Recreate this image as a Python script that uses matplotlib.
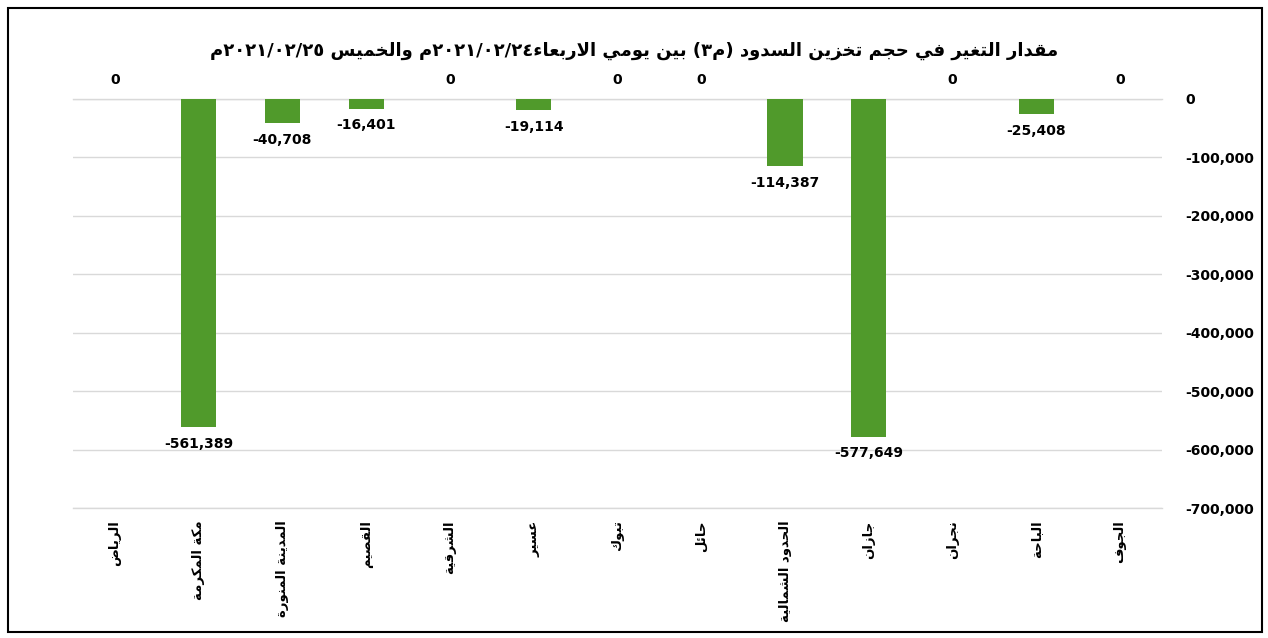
"""Dam storage change bar chart (Arabic labels, shaped by hand for matplotlib)."""
import re

import numpy as np
import matplotlib
matplotlib.use("Agg")
import matplotlib.pyplot as plt  # noqa: E402
from matplotlib.patches import Rectangle  # noqa: E402
from matplotlib.ticker import FuncFormatter  # noqa: E402

TITLE = "مقدار التغير في حجم تخزين السدود (م٣) بين يومي الاربعاء٢٠٢١/٠٢/٢٤م والخميس ٢٠٢١/٠٢/٢٥م"
REGIONS = ["الرياض", "مكة المكرمة", "المدينة المنورة", "القصيم", "الشرقية", "عسير", "تبوك",
           "حائل", "الحدود الشمالية", "جازان", "نجران", "الباحة", "الجوف"]
CHANGE = [0, -561389, -40708, -16401, 0, -19114, 0, 0, -114387, -577649, 0, -25408, 0]
Y_TICKS = [0, -100000, -200000, -300000, -400000, -500000, -600000, -700000]

BAR_GREEN = "#509a2b"
GRID = "#d9d9d9"

# isolated-form codepoint in Arabic Presentation Forms-B, number of forms
JOIN = {
    "ء": (0xFE80, 1), "ئ": (0xFE89, 4), "ا": (0xFE8D, 2), "ب": (0xFE8F, 4), "ة": (0xFE93, 2),
    "ت": (0xFE95, 4), "ج": (0xFE9D, 4), "ح": (0xFEA1, 4), "خ": (0xFEA5, 4), "د": (0xFEA9, 2),
    "ر": (0xFEAD, 2), "ز": (0xFEAF, 2), "س": (0xFEB1, 4), "ش": (0xFEB5, 4), "ص": (0xFEB9, 4),
    "ض": (0xFEBD, 4), "ع": (0xFEC9, 4), "غ": (0xFECD, 4), "ف": (0xFED1, 4), "ق": (0xFED5, 4),
    "ك": (0xFED9, 4), "ل": (0xFEDD, 4), "م": (0xFEE1, 4), "ن": (0xFEE5, 4), "ه": (0xFEE9, 4),
    "و": (0xFEED, 2), "ي": (0xFEF1, 4),
}
MIRROR = str.maketrans("()", ")(")


def shape(s: str) -> str:
    """contextual forms + lam-alef ligature (logical order kept)."""
    seq, i = [], 0
    while i < len(s):
        if s[i] == "ل" and i + 1 < len(s) and s[i + 1] == "ا":
            seq.append("لا"); i += 2
        else:
            seq.append(s[i]); i += 1
    out = []
    for k, c in enumerate(seq):
        prev = seq[k - 1] if k > 0 else None
        nxt = seq[k + 1] if k + 1 < len(seq) else None
        p = prev in JOIN and JOIN[prev][1] == 4
        if c == "لا":
            out.append(chr(0xFEFC if p else 0xFEFB))
            continue
        if c not in JOIN:
            out.append(c)
            continue
        base, n = JOIN[c]
        nx = n == 4 and nxt is not None and (nxt == "لا" or (nxt in JOIN and JOIN[nxt][1] > 1))
        if n == 1:
            off = 0
        elif p and nx:
            off = 3
        elif p:
            off = 1
        elif nx:
            off = 2
        else:
            off = 0
        out.append(chr(base + off))
    return "".join(out)


def visual(s: str) -> str:
    """rough bidi: reverse RTL runs, keep digit runs left-to-right."""
    parts = re.split(r"([0-9\u0660-\u0669]+(?:[/,.][0-9\u0660-\u0669]+)*)", shape(s))
    out = [p if j % 2 else p[::-1].translate(MIRROR) for j, p in enumerate(parts)]
    return "".join(reversed(out))


plt.rcParams["font.family"] = ["DejaVu Sans"]
plt.rcParams["font.weight"] = "bold"

W, H = 1268, 638
fig = plt.figure(figsize=(W / 100, H / 100), dpi=100)
ax = fig.add_axes([73 / W, 1 - 508 / H, (1162 - 73) / W, (508 - 99) / H])

x = np.arange(len(REGIONS))
ax.bar(x, CHANGE, width=0.42, color=BAR_GREEN, zorder=3)

for xi, v in zip(x, CHANGE):
    if v < 0:
        ax.annotate(f"{v:,}", (xi, v), xytext=(0, -7), textcoords="offset points",
                    ha="center", va="top", fontsize=10, fontweight="bold", annotation_clip=False)
    else:
        ax.annotate(f"{v:,}", (xi, v), xytext=(0, 9), textcoords="offset points",
                    ha="center", va="bottom", fontsize=10, fontweight="bold", annotation_clip=False)

ax.set_xlim(-0.5, len(REGIONS) - 0.5)
ax.set_ylim(-700000, 0)
ax.set_yticks(Y_TICKS)
ax.yaxis.set_major_formatter(FuncFormatter(lambda v, _: f"{int(v):,}"))
ax.yaxis.tick_right()
ax.tick_params(axis="y", length=0, pad=17, labelsize=10)
ax.set_xticks(x)
ax.set_xticklabels([visual(r) for r in REGIONS], rotation=90, va="top", fontsize=9.5)
ax.tick_params(axis="x", length=0, pad=9)
ax.grid(axis="y", color=GRID, linewidth=1, zorder=0)
for yv in (Y_TICKS[0], Y_TICKS[-1]):
    ax.axhline(yv, color=GRID, linewidth=1, zorder=1, clip_on=False)
for sp in ax.spines.values():
    sp.set_visible(False)

fig.text(0.5, 1 - 51 / H, visual(TITLE), ha="center", va="center", fontsize=13, fontweight="bold")

fig.add_artist(Rectangle((8 / W, 6 / H), (W - 14) / W, (H - 14) / H, transform=fig.transFigure,
                         fill=False, edgecolor="black", linewidth=1.5))

fig.savefig("out.png", dpi=100)
